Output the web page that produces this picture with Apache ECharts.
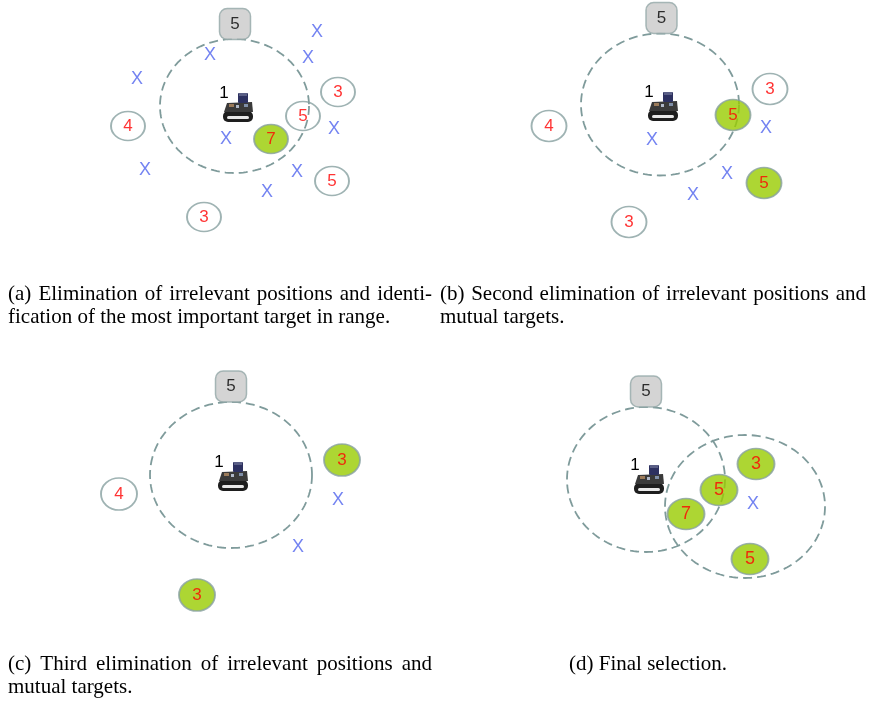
<!DOCTYPE html>
<html><head><meta charset="utf-8">
<script src="https://cdn.jsdelivr.net/npm/echarts@6/dist/echarts.min.js"></script>
<style>html,body{margin:0;padding:0;background:#fff}#c{width:869px;height:704px}</style>
</head><body><div id="c"></div>
<script>
// ---- data (diagram coordinates) ----
// range circles: [cx, cy, rx, ry]
const rangeCircles = [
  [234.5, 106, 74.5, 67],
  [660, 104.5, 79, 71],
  [231, 475, 81, 73],
  [646, 479.5, 79, 72.5],
  [745, 506.5, 80, 71.5]
];
// robots: [x, y, id]
const robots = [[238, 108, '1'], [663, 107, '1'], [233, 477, '1'], [649, 480, '1']];
// robot importance boxes: [x, y, value]
const boxes = [[235, 24, '5'], [661.5, 18, '5'], [231, 386.5, '5'], [646, 391.5, '5']];
// targets: [x, y, value, selected]
const targetsA = [[338, 92, 3, 0], [128, 126, 4, 0], [303, 116, 5, 0], [271, 139, 7, 1], [332, 181, 5, 0], [204, 217, 3, 0]];
const targetsB = [[770, 89, 3, 0], [549, 126, 4, 0], [733, 115, 5, 1], [764, 183, 5, 1], [629, 222, 3, 0]];
const targetsC = [[342, 460, 3, 1], [119, 494, 4, 0], [197, 595, 3, 1]];
const targetsD = [[756, 464, 3, 1], [719, 490, 5, 1], [686, 514, 7, 1], [750, 559, 5, 1]];
// eliminated positions: [x, y]
const elimA = [[317, 32], [210, 55], [308, 58], [137, 79], [334, 129], [226, 139], [145, 170], [297, 172], [267, 192]];
const elimB = [[652, 140], [766, 128], [727, 174], [693, 195]];
const elimC = [[338, 500], [298, 547]];
const elimD = [[753, 504]];
// captions
const captionA = ['(a) Elimination of irrelevant positions and identi-', 'fication of the most important target in range.'];
const captionB = ['(b) Second elimination of irrelevant positions and', 'mutual targets.'];
const captionC = ['(c) Third elimination of irrelevant positions and', 'mutual targets.'];
const captionD = ['(d) Final selection.'];

// ---- styles ----
const RED = '#ff0000', GREEN = '#99cc00', EDGE = '#87a0a0', DASH = '#7f9b9b', XBLUE = '#5064ee';
const SANS = '"Liberation Sans", Arial, sans-serif';
const SERIF_FONT = '21px "Liberation Serif", "Times New Roman", serif';

const chart = echarts.init(document.getElementById('c'), null, {renderer: 'canvas'});

function targetSeries(data, size, fs) {
  return {
    type: 'scatter', data: data, symbol: 'circle', symbolSize: size, silent: true, z: 4,
    itemStyle: {
      color: p => p.data[3] ? GREEN : 'rgba(255,255,255,0)',
      borderColor: EDGE, borderWidth: 1.8
    },
    label: {show: true, position: 'inside', formatter: p => String(p.data[2]),
      color: RED, fontSize: fs, fontFamily: SANS},
    emphasis: {disabled: true}
  };
}
function elimSeries(data) {
  return {
    type: 'scatter', data: data, symbolSize: 1, silent: true, z: 3,
    itemStyle: {color: 'rgba(0,0,0,0)'},
    label: {show: true, position: 'inside', formatter: 'X', color: XBLUE, fontSize: 18, fontFamily: SANS},
    emphasis: {disabled: true}
  };
}

// captions as graphic text (justified lines)
const measureCtx = document.createElement('canvas').getContext('2d');
measureCtx.font = SERIF_FONT;
function captionGraphics(lines, x0, x1, y0, justifyAll) {
  const out = [];
  lines.forEach((line, li) => {
    const y = y0 + li * 23;
    const justify = justifyAll && li < lines.length - 1;
    if (!justify) {
      out.push({type: 'text', x: x0, y: y, style: {text: line, font: SERIF_FONT, fill: '#000', align: 'left', verticalAlign: 'middle'}});
      return;
    }
    const words = line.split(' ');
    const ws = words.map(w => measureCtx.measureText(w).width);
    const total = ws.reduce((a, b) => a + b, 0);
    const gap = (x1 - x0 - total) / (words.length - 1);
    let x = x0;
    words.forEach((w, i) => {
      out.push({type: 'text', x: x, y: y, style: {text: w, font: SERIF_FONT, fill: '#000', align: 'left', verticalAlign: 'middle'}});
      x += ws[i] + gap;
    });
  });
  return out;
}

const graphics = []
  .concat(captionGraphics(captionA, 8, 432, 294, true))
  .concat(captionGraphics(captionB, 440, 866, 294, true))
  .concat(captionGraphics(captionC, 8, 432, 664, true))
  .concat(captionGraphics(captionD, 569, 732, 664, false));

const option = {
  backgroundColor: '#fff',
  animation: false,
  grid: {left: 0, right: 0, top: 0, bottom: 0},
  xAxis: {type: 'value', min: 0, max: 869, show: false},
  yAxis: {type: 'value', min: 0, max: 704, inverse: true, show: false},
  graphic: graphics,
  series: [
    {
      type: 'custom', data: rangeCircles, silent: true, z: 1,
      renderItem: function (params, api) {
        const c = api.coord([api.value(0), api.value(1)]);
        const s = api.size([api.value(2), api.value(3)]);
        const pts = [];
        const N = 160;
        for (let i = 0; i <= N; i++) {
          const a = i / N * Math.PI * 2;
          pts.push([c[0] + s[0] * Math.cos(a), c[1] + s[1] * Math.sin(a)]);
        }
        return {type: 'polyline', shape: {points: pts},
          style: {fill: 'none', stroke: DASH, lineWidth: 1.8, lineDash: [9, 5]}};
      }
    },
    {
      type: 'scatter', data: boxes, symbol: 'roundRect', symbolSize: [31, 31], silent: true, z: 3,
      itemStyle: {color: '#c9c9c9', borderColor: '#93a7a7', borderWidth: 1.5},
      label: {show: true, position: 'inside', formatter: p => p.data[2], color: '#000', fontSize: 17, fontFamily: SANS},
      emphasis: {disabled: true}
    },
    {
      type: 'custom', data: robots, silent: true, z: 3,
      renderItem: function (params, api) {
        const c = api.coord([api.value(0), api.value(1)]);
        const cx = c[0], cy = c[1];
        return {type: 'group', children: [
          {type: 'rect', shape: {x: cx - 15, y: cy + 3, width: 30, height: 11, r: 5}, style: {fill: '#1e1e1e'}},
          {type: 'rect', shape: {x: cx - 11, y: cy + 8, width: 22, height: 3, r: 1.5}, style: {fill: '#e8e8e8'}},
          {type: 'polygon', shape: {points: [[cx - 14, cy + 4], [cx - 11, cy - 5], [cx + 14, cy - 6], [cx + 15, cy + 4]]}, style: {fill: '#3a3a3a'}},
          {type: 'rect', shape: {x: cx - 9, y: cy - 4, width: 5, height: 3}, style: {fill: '#9c7b5a'}},
          {type: 'rect', shape: {x: cx - 2, y: cy - 3, width: 3, height: 3}, style: {fill: '#b0b8c8'}},
          {type: 'rect', shape: {x: cx + 6, y: cy - 4, width: 4, height: 3}, style: {fill: '#7f8fa8'}},
          {type: 'rect', shape: {x: cx, y: cy - 15, width: 10, height: 10, r: 1}, style: {fill: '#2d3160'}},
          {type: 'rect', shape: {x: cx + 1, y: cy - 15, width: 8, height: 3}, style: {fill: '#5a5f86'}},
          {type: 'text', x: cx - 14, y: cy - 15, style: {text: api.value(2) + '', fill: '#000',
            font: '17px ' + SANS, align: 'center', verticalAlign: 'middle'}}
        ]};
      }
    },
    elimSeries(elimA), elimSeries(elimB), elimSeries(elimC), elimSeries(elimD),
    targetSeries(targetsA, [34, 29], 17),
    targetSeries(targetsB, [35, 31], 17),
    targetSeries(targetsC, [36, 32], 17),
    targetSeries(targetsD, [37, 31], 18)
  ]
};
chart.setOption(option);
</script>
</body></html>
